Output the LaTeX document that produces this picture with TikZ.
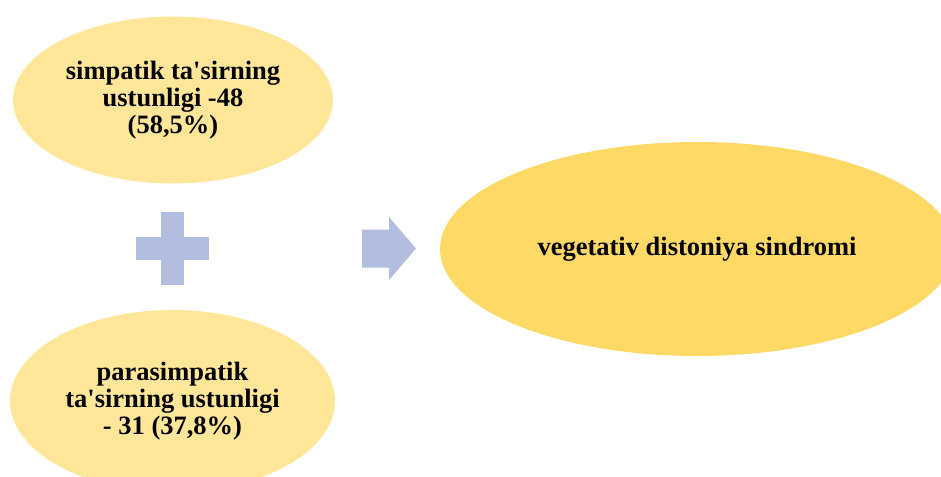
\documentclass[tikz,border=0pt]{standalone}
\usepackage{fontspec}
\setmainfont{Liberation Serif}
\usepackage{xcolor}
\usetikzlibrary{positioning,shapes.geometric}
\definecolor{effectbg}{RGB}{255,230,153}
\definecolor{syndromebg}{RGB}{255,217,102}
\definecolor{signbg}{RGB}{178,189,223}

\begin{document}
\begin{tikzpicture}[
    x=1pt, y=-1pt,
    oval/.style={ellipse, fill=effectbg, align=center, inner sep=0pt,
        font=\fontsize{26.5}{26.8}\selectfont\bfseries},
    sign/.style={fill=signbg, draw=none},
]
    \useasboundingbox (0,0) rectangle (941,476);
    \clip (0,0) rectangle (941,476);

    \node[oval, minimum width=320pt, minimum height=167pt] (symp) at (173,100)
        {simpatik ta\textquotesingle sirning\\ustunligi -48\\(58,5\%)};
    \node[oval, minimum width=325pt, minimum height=182pt] (para) at (172.5,401)
        {parasimpatik\\ta\textquotesingle sirning ustunligi\\- 31 (37,8\%)};
    \node[oval, fill=syndromebg, minimum width=514pt, minimum height=214pt] (vds) at (697,249)
        {vegetativ distoniya sindromi};

    % plus sign and arrow
    \coordinate (plus) at (172.5,248.5);
    \fill[sign] ([xshift=-36.5pt, yshift=-11.5pt]plus) rectangle ([xshift=36.5pt, yshift=11.5pt]plus);
    \fill[sign] ([xshift=-11.5pt, yshift=-36.5pt]plus) rectangle ([xshift=11.5pt, yshift=36.5pt]plus);
    \coordinate (arrow) at (362,248.5);
    \fill[sign] (arrow) ++(0,-19) -- ++(27,0) -- ++(0,-12.5) -- ++(27,31.5)
        -- ++(-27,31.5) -- ++(0,-12.5) -- ++(-27,0) -- cycle;
\end{tikzpicture}
\end{document}
